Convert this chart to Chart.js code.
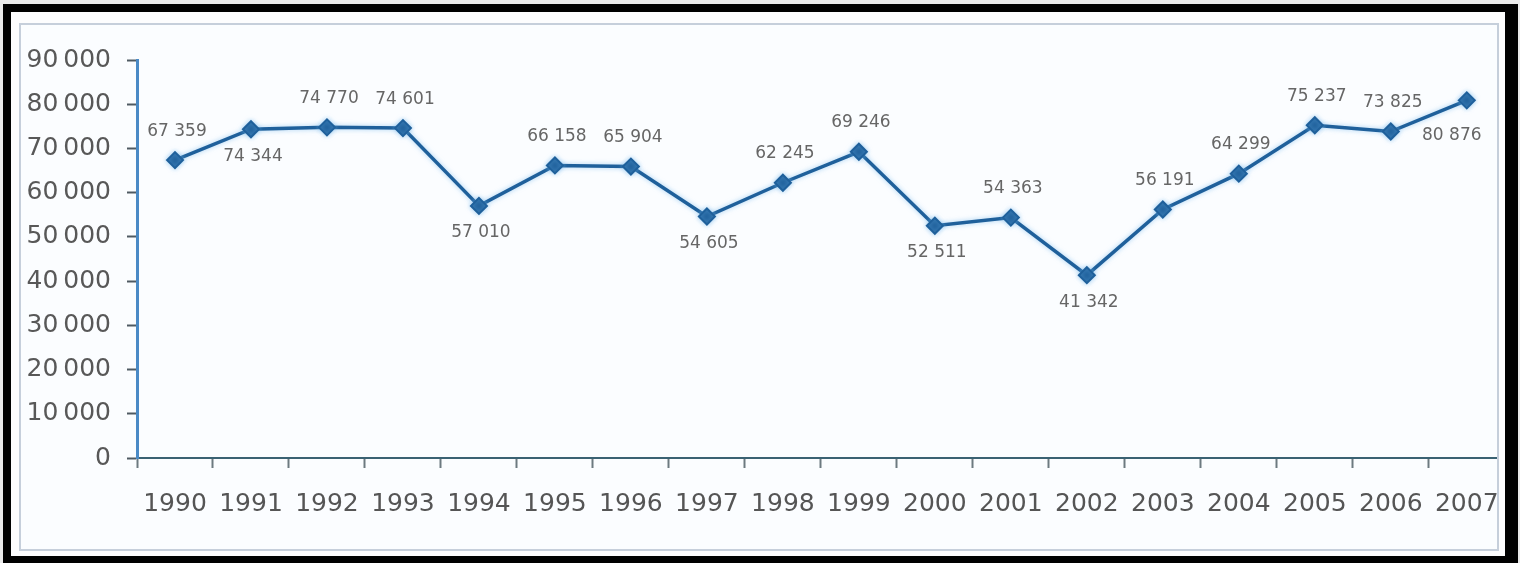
<!DOCTYPE html>
<html>
<head>
<meta charset="utf-8">
<script src="https://cdn.jsdelivr.net/npm/chart.js@4"></script>
<style>
  html, body { margin: 0; padding: 0; }
  body { width: 1520px; height: 563px; background: #e9e9e9; position: relative; overflow: hidden; }
  .frame {
    position: absolute; left: 3px; top: 4px; width: 1494px; height: 544px;
    border-style: solid; border-color: #000;
    border-width: 8px 13px 7px 8px;
    background: #fdfdfe;
  }
  .panel {
    position: absolute; left: 19px; top: 23px; width: 1476px; height: 524px;
    border: 2px solid #c6cfdb; background: #fbfdff; overflow: hidden;
  }
  .panel canvas { position: absolute; left: -21px; top: -25px; }
</style>
</head>
<body>
<div class="frame"></div>
<div class="panel"><canvas id="trend" width="1520" height="563"></canvas></div>
<script>
  const years = ['1990', '1991', '1992', '1993', '1994', '1995', '1996', '1997', '1998',
    '1999', '2000', '2001', '2002', '2003', '2004', '2005', '2006', '2007'];
  const values = [67359, 74344, 74770, 74601, 57010, 66158, 65904, 54605, 62245,
    69246, 52511, 54363, 41342, 56191, 64299, 75237, 73825, 80876];
  const yTicks = [0, 10000, 20000, 30000, 40000, 50000, 60000, 70000, 80000, 90000];

  // where each value label sits relative to its point
  const labelSide = ['up', 'down', 'up', 'up', 'down', 'up', 'up', 'down', 'up',
    'up', 'down', 'up', 'down', 'up', 'up', 'up', 'up', 'downleft'];

  const lineColor = '#1f609b';

  function fmt(v, sep) {
    return String(v).replace(/\B(?=(\d{3})+(?!\d))/g, sep);
  }

  const valueLabels = {
    id: 'valueLabels',
    afterDatasetsDraw(chart) {
      const ctx = chart.ctx;
      const meta = chart.getDatasetMeta(0);
      ctx.save();
      ctx.font = '17px "DejaVu Sans"';
      ctx.fillStyle = '#666666';
      ctx.textAlign = 'center';
      ctx.textBaseline = 'middle';
      meta.data.forEach((pt, i) => {
        const side = labelSide[i];
        let dx = 2, dy = -29;
        if (side === 'down') dy = 27;
        if (side === 'downleft') { dx = -15; dy = 35; }
        ctx.fillText(fmt(values[i], ' '), pt.x + dx, pt.y + dy);
      });
      ctx.restore();
    }
  };

  // soft halo under the line
  const lineGlow = {
    id: 'lineGlow',
    beforeDatasetDraw(chart) {
      chart.ctx.save();
      chart.ctx.shadowColor = 'rgba(110, 180, 235, 0.6)';
      chart.ctx.shadowBlur = 5;
    },
    afterDatasetDraw(chart) {
      chart.ctx.restore();
    }
  };

  new Chart(document.getElementById('trend'), {
    type: 'line',
    data: {
      labels: years,
      datasets: [{
        data: values,
        borderColor: lineColor,
        backgroundColor: lineColor,
        borderWidth: 3.5,
        pointStyle: 'rectRot',
        pointRadius: 8,
        pointBorderWidth: 2,
        pointBorderColor: lineColor,
        tension: 0,
        clip: false
      }]
    },
    options: {
      responsive: false,
      animation: false,
      devicePixelRatio: 1,
      layout: { padding: { left: 0, right: 15, top: 60, bottom: 0 } },
      plugins: { legend: { display: false }, tooltip: { enabled: false } },
      scales: {
        x: {
          offset: true,
          afterFit(scale) { scale.height = 105; },
          grid: {
            offset: true,
            drawOnChartArea: false,
            drawTicks: true,
            tickLength: 10,
            tickColor: '#6d7a80',
            tickWidth: 2
          },
          border: { color: '#3a6273', width: 2 },
          ticks: {
            color: '#555555',
            font: { family: 'DejaVu Sans', size: 25 },
            padding: 21,
            maxRotation: 0,
            autoSkip: false
          }
        },
        y: {
          min: 0,
          max: 90000,
          afterFit(scale) { scale.width = 137; },
          afterBuildTicks(scale) { scale.ticks = yTicks.map(v => ({ value: v })); },
          grid: {
            drawOnChartArea: false,
            drawTicks: true,
            tickLength: 10,
            tickColor: '#4f5a62',
            tickWidth: 2
          },
          border: { color: '#4a8ac6', width: 3 },
          ticks: {
            color: '#585858',
            font: { family: 'DejaVu Sans', size: 25 },
            padding: 16,
            callback: v => fmt(v, '\u2009')
          }
        }
      }
    },
    plugins: [lineGlow, valueLabels]
  });
</script>
</body>
</html>
